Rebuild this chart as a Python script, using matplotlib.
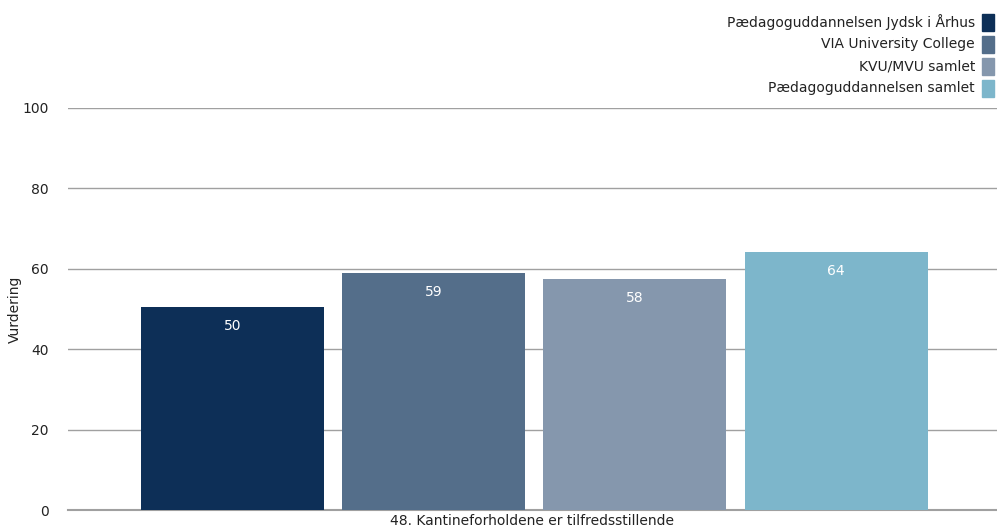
import matplotlib
matplotlib.use("Agg")
import matplotlib.pyplot as plt
from matplotlib.patches import Rectangle

series = ["Pædagoguddannelsen Jydsk i Århus", "VIA University College",
          "KVU/MVU samlet", "Pædagoguddannelsen samlet"]
values = [50.5, 59.0, 57.5, 64.2]
labels = ["50", "59", "58", "64"]
colors = ["#0d2f57", "#546e8a", "#8597ad", "#7db6cb"]
category = "48. Kantineforholdene er tilfredsstillende"
yticks = [0, 20, 40, 60, 80, 100]

plt.rcParams['font.family'] = ['DejaVu Sans']
fig = plt.figure(figsize=(9.97, 5.31), dpi=100)
ax = fig.add_axes([68/997, 21/531, 929/997, 402/531])

x = list(range(len(values)))
ax.bar(x, values, width=0.91, color=colors, zorder=3)
for xi, v, lab in zip(x, values, labels):
    ax.annotate(lab, (xi, v), xytext=(0, -13.5), textcoords="offset points",
                ha="center", va="center", color="white", fontsize=10, zorder=4)

ax.set_xlim(-0.818, 3.80)
ax.set_ylim(0, 100)
ax.set_yticks(yticks)
ax.set_xticks([])
ax.yaxis.grid(True, color="#a0a0a0", linewidth=1.0, zorder=0)
ax.axhline(0, color="#a0a0a0", linewidth=1.5, zorder=2, clip_on=False)
for s in ["top", "right", "left", "bottom"]:
    ax.spines[s].set_visible(False)
ax.tick_params(axis="y", length=0, pad=14, labelsize=10, colors="#222222")
ax.set_ylabel("Vurdering", fontsize=10, color="#222222", va="center")
ax.yaxis.set_label_coords(-0.057, 0.5)
ax.set_xlabel(category, fontsize=10, labelpad=3, color="#222222")

# legend at top right
for i, (name, c) in enumerate(zip(series, colors)):
    yp = 1 - (22 + 22 * i) / 531
    fig.text(975/997, yp, name, ha="right", va="center", fontsize=10, color="#222222")
    fig.patches.append(Rectangle((982/997, yp - 8.5/531), 12/997, 17/531,
                                 transform=fig.transFigure, color=c, figure=fig))

fig.savefig("out.png", dpi=100)
